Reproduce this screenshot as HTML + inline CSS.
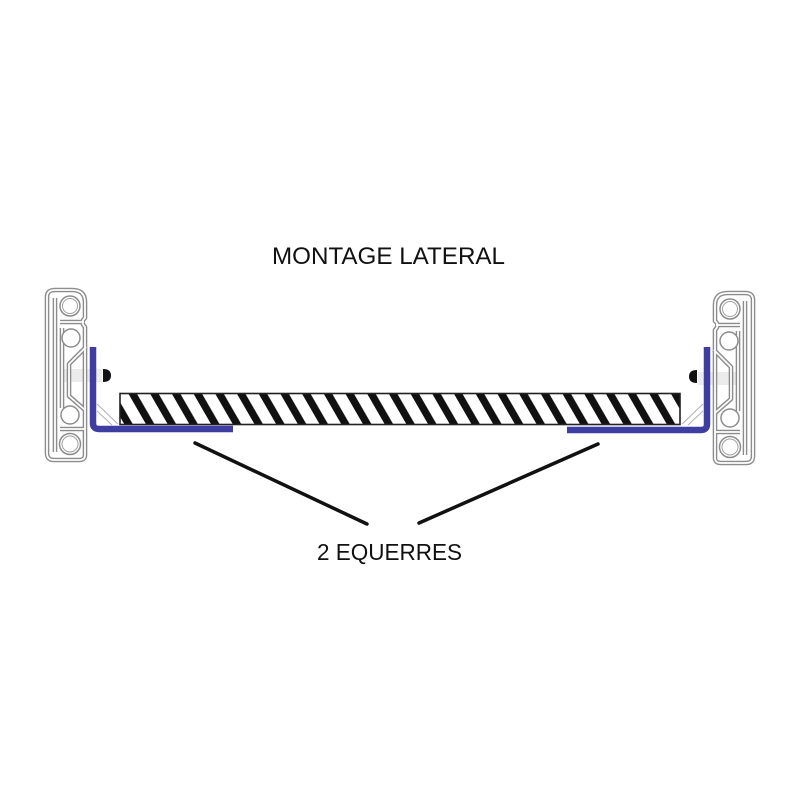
<!DOCTYPE html>
<html><head><meta charset="utf-8">
<style>
html,body{margin:0;padding:0;background:#fff;}
svg{display:block;}
</style></head>
<body>
<svg width="800" height="800" viewBox="0 0 800 800" xmlns="http://www.w3.org/2000/svg">
<defs>
  <pattern id="hatch" patternUnits="userSpaceOnUse" width="21.7" height="40" patternTransform="translate(128,393) skewX(30)">
    <rect x="0" y="0" width="8.5" height="40" fill="#111"/>
  </pattern>
  <g id="rail">
    <!-- bolt shaft -->
    <rect x="62" y="369" width="40" height="13" fill="#ececec"/>
    <g fill="none" stroke="#8c8c8c" stroke-width="4.6" stroke-linejoin="round">
      <path d="M55 290 L72 290 Q85 290 85 302 L85 318 Q80 322 85 327 L85 455 Q85 460 79 460 L54 460 Q47 460 47 453 L47 297 Q47 290 55 290 Z"/>
      <path d="M55 298 L55 452"/>
      <path d="M60 322 L84 322"/>
      <path d="M60 429 L84 429"/>
      <path d="M86 347 L69 364 L69 396 L85 410"/>
      <path d="M62 328 L62 408"/>
    </g>
    <g fill="none" stroke="#fff" stroke-width="1.8" stroke-linejoin="round">
      <path d="M55 290 L72 290 Q85 290 85 302 L85 318 Q80 322 85 327 L85 455 Q85 460 79 460 L54 460 Q47 460 47 453 L47 297 Q47 290 55 290 Z"/>
      <path d="M55 298 L55 452"/>
      <path d="M60 322 L84 322"/>
      <path d="M60 429 L84 429"/>
      <path d="M86 347 L69 364 L69 396 L85 410"/>
      <path d="M62 328 L62 408"/>
    </g>
    <g fill="#fff" stroke="#8c8c8c" stroke-width="1.5">
      <circle cx="70" cy="306" r="10"/>
      <circle cx="71" cy="338" r="9"/>
      <circle cx="70" cy="415" r="9"/>
      <circle cx="70" cy="444" r="10.5"/>
    </g>
    <g fill="none" stroke="#a0a0a0" stroke-width="1">
      <circle cx="70" cy="306" r="7.5"/>
      <circle cx="70" cy="444" r="8"/>
    </g>
  </g>
</defs>

<!-- Title -->
<text x="388.5" y="264" font-family="Liberation Sans, Arial, sans-serif" font-size="24.5" fill="#111" text-anchor="middle" textLength="233" lengthAdjust="spacingAndGlyphs">MONTAGE LATERAL</text>

<!-- Rails -->
<use href="#rail"/>
<use href="#rail" transform="translate(800,3) scale(-1,1)"/>

<!-- diagonal braces -->
<g stroke="#b0b0b0" stroke-width="1" fill="none">
  <path d="M97 404 L118 424"/>
  <path d="M97 411 L112 425"/>
  <path d="M703 404 L682 424"/>
  <path d="M703 411 L688 425"/>
</g>

<!-- Board -->
<rect x="120" y="393.5" width="560" height="31" fill="#fff"/>
<rect x="120" y="393.5" width="560" height="31" fill="url(#hatch)"/>
<rect x="120" y="393.5" width="560" height="31" fill="none" stroke="#222" stroke-width="1.6"/>

<!-- Blue brackets -->
<path d="M93 347 L93 423 Q93 429 99 429 L233 429" fill="none" stroke="#3d3da2" stroke-width="6.5"/>
<path d="M707 347 L707 424 Q707 430 701 430 L567 430" fill="none" stroke="#3d3da2" stroke-width="6.5"/>

<!-- Bolts -->
<path d="M103 369 Q111 369 111 375.5 Q111 382 103 382 Z" fill="#111"/>
<path d="M697 370 Q689 370 689 376.5 Q689 383 697 383 Z" fill="#111"/>

<!-- Leader lines -->
<line x1="195" y1="443" x2="367" y2="524" stroke="#111" stroke-width="3.5" stroke-linecap="round"/>
<line x1="598" y1="444" x2="419" y2="523" stroke="#111" stroke-width="3.5" stroke-linecap="round"/>

<!-- Bottom label -->
<text x="389.5" y="560" font-family="Liberation Sans, Arial, sans-serif" font-size="23" fill="#111" text-anchor="middle" textLength="145" lengthAdjust="spacingAndGlyphs">2 EQUERRES</text>
</svg>
</body></html>
